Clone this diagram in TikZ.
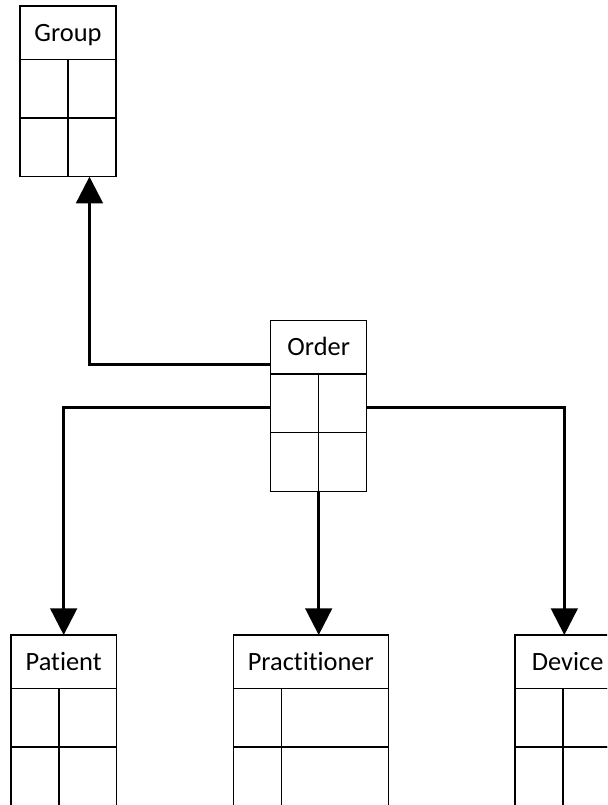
\documentclass[tikz,border=0pt]{standalone}
\usepackage{fontspec}
\setmainfont{Carlito}[Ligatures=NoCommon]
\usetikzlibrary{arrows.meta,positioning}

\tikzset{
  header/.style={draw, line width=1.1pt, outer sep=0pt, inner sep=0pt, minimum height=40pt,
    font=\fontsize{19.8pt}{23pt}\selectfont, text height=12.6pt, text depth=0pt},
  row/.style={draw, line width=1.1pt, outer sep=0pt, inner sep=0pt, minimum height=44pt},
  cellline/.style={line width=1.1pt},
  link/.style={line width=2pt, -{Triangle[width=20pt,length=20pt]}}
}

\begin{document}
\begin{tikzpicture}[x=0.75pt,y=0.75pt,yscale=-1,xscale=1]
\useasboundingbox (0,0) rectangle (607,805);
\clip (0,0) rectangle (607,805);

%Shape: Table [id:group]
\node [header, minimum width=72pt, anchor=north west] (group) at (20,6) {Group};
\node [row, minimum width=72pt, below=0pt of group] (group-r1) {};
\node [row, minimum width=72pt, below=0pt of group-r1] (group-r2) {};
\draw [cellline] ([xshift=36pt]group-r1.north west) -- ([xshift=36pt]group-r2.south west);

%Shape: Table [id:order]
\node [header, minimum width=72pt, anchor=north west] (order) at (270.7,320.7) {Order};
\node [row, minimum width=72pt, below=0pt of order] (order-r1) {};
\node [row, minimum width=72pt, below=0pt of order-r1] (order-r2) {};
\draw [cellline] ([xshift=36pt]order-r1.north west) -- ([xshift=36pt]order-r2.south west);

%Shape: Table [id:patient]
\node [header, minimum width=79pt, anchor=north west] (patient) at (11,635) {Patient};
\node [row, minimum width=79pt, below=0pt of patient] (patient-r1) {};
\node [row, minimum width=79pt, below=0pt of patient-r1] (patient-r2) {};
\draw [cellline] ([xshift=36pt]patient-r1.north west) -- ([xshift=36pt]patient-r2.south west);

%Shape: Table [id:practitioner]
\node [header, minimum width=116.25pt, anchor=north west] (practitioner) at (233.3,635) {Practitioner};
\node [row, minimum width=116.25pt, below=0pt of practitioner] (practitioner-r1) {};
\node [row, minimum width=116.25pt, below=0pt of practitioner-r1] (practitioner-r2) {};
\draw [cellline] ([xshift=36pt]practitioner-r1.north west) -- ([xshift=36pt]practitioner-r2.south west);

%Shape: Table [id:device]
\node [header, minimum width=79pt, anchor=north west] (device) at (515,635) {Device};
\node [row, minimum width=79pt, below=0pt of device] (device-r1) {};
\node [row, minimum width=79pt, below=0pt of device-r1] (device-r2) {};
\draw [cellline] ([xshift=36pt]device-r1.north west) -- ([xshift=36pt]device-r2.south west);

%Connectors
\draw [link] ([yshift=-7.4pt]order.south west) -| ([xshift=16.1pt]group-r2.south);
\draw [link] ([yshift=3pt]order-r1.west) -| (patient.north);
\draw [link] (order-r2.south) -- (order-r2.south |- practitioner.north);
\draw [link] ([yshift=3pt]order-r1.east) -| ([xshift=-2.5pt]device.north);

\end{tikzpicture}
\end{document}
